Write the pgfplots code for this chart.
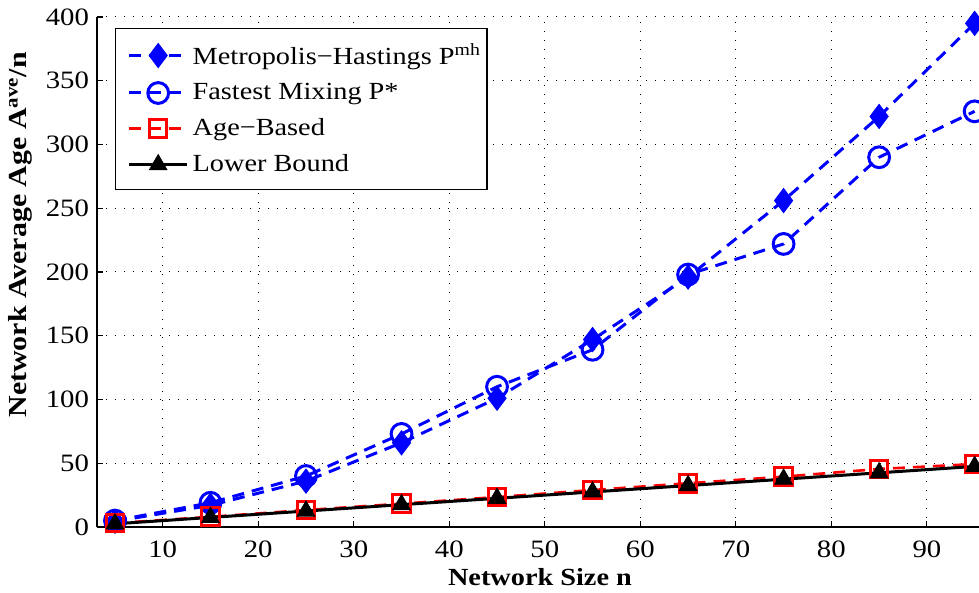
\documentclass[border=0pt]{standalone}
\usepackage{pgfplots}
\pgfplotsset{compat=1.18}
\usepackage{fontspec}
\setmainfont[FakeStretch=1.15]{Liberation Serif}
\definecolor{mblue}{rgb}{0,0,1}
\definecolor{mred}{rgb}{1,0,0}
\begin{document}
\begin{tikzpicture}
\useasboundingbox (-48.5pt,-33pt) rectangle (441pt,263.5pt);
\begin{axis}[
  scale only axis,
  width=462.7pt, height=255pt,
  at={(0,0)}, anchor=south west,
  xmin=3.12, xmax=100,
  ymin=0, ymax=400,
  xtick={10,20,...,90},
  ytick={0,50,...,400},
  axis x line*=bottom, axis y line*=left,
  axis line style={line width=0.8pt,-},
  tick align=inside,
  major tick length=3pt,
  tick style={line width=0.6pt, black},
  grid=major,
  major grid style={black, line width=0.5pt, dash pattern=on 0.6pt off 3.9pt},
  /pgf/number format/assume math mode=true,
  tick label style={font=\rmfamily\fontsize{12.5}{14}\selectfont},
  xticklabel style={yshift=-3.5pt},
  yticklabel style={xshift=-0.5pt},
  xlabel={\textbf{Network Size n}},
  ylabel={\textbf{Network Average Age A\textsuperscript{ave}/n}},
  xlabel style={font=\rmfamily\fontsize{12.3}{14}\selectfont,
    at={(axis description cs:0.4787,0)}, anchor=base, yshift=-29.5pt},
  ylabel style={font=\rmfamily\fontsize{13}{15}\selectfont,
    at={(axis description cs:-0.083,0.573)}, anchor=center},
  clip=false,
  legend cell align=left,
  legend style={at={(0,1)}, anchor=north west, xshift=9pt, yshift=-5.5pt,
    draw=black, line width=0.7pt, font=\rmfamily\fontsize{12.3}{14}\selectfont,
    row sep=4pt, inner xsep=1pt, inner ysep=5.5pt},
  legend image code/.code={
    \path (-5pt,0pt);
    \draw[mark repeat=2,mark phase=2] plot coordinates {(0pt,0pt) (14.5pt,0pt) (29pt,0pt)};
  },
]
\addplot[mblue, line width=1.5pt, dash pattern=on 6pt off 4pt, mark=diamond*, mark size=6pt,
  mark options={solid, fill=mblue, line width=0.5pt}]
  coordinates {(5,4.5)(15,17)(25,36)(35,66)(45,101)(55,147)(65,196)(75,256)(85,322)(95,395)};
\addlegendentry{Metropolis\textminus Hastings P\textsuperscript{mh}}
\addplot[mblue, line width=1.5pt, dash pattern=on 6pt off 4pt, mark=o, mark size=5.2pt,
  mark options={solid, line width=1.5pt}]
  coordinates {(5,5)(15,19)(25,40)(35,73)(45,110)(55,139)(65,198)(75,222)(85,290)(95,326)};
\addlegendentry{Fastest Mixing P*}
\addplot[mred, line width=1.3pt, dash pattern=on 6pt off 4pt, mark=square, mark size=4.4pt,
  mark options={solid, line width=1.5pt}]
  coordinates {(5,3)(15,8)(25,13.3)(35,18.3)(45,23.5)(55,29)(65,34.3)(75,39.5)(85,45.5)(95,49.4)};
\addlegendentry{Age\textminus Based}
\addplot[black, line width=1.5pt, mark=triangle*, mark size=5pt,
  mark options={solid, fill=black, line width=0.5pt}]
  coordinates {(5,2.5)(15,7.5)(25,12.5)(35,17.5)(45,22.5)(55,27.5)(65,32.5)(75,37.5)(85,42.5)(95,47.5)};
\addlegendentry{Lower Bound}
\end{axis}
\end{tikzpicture}
\end{document}
